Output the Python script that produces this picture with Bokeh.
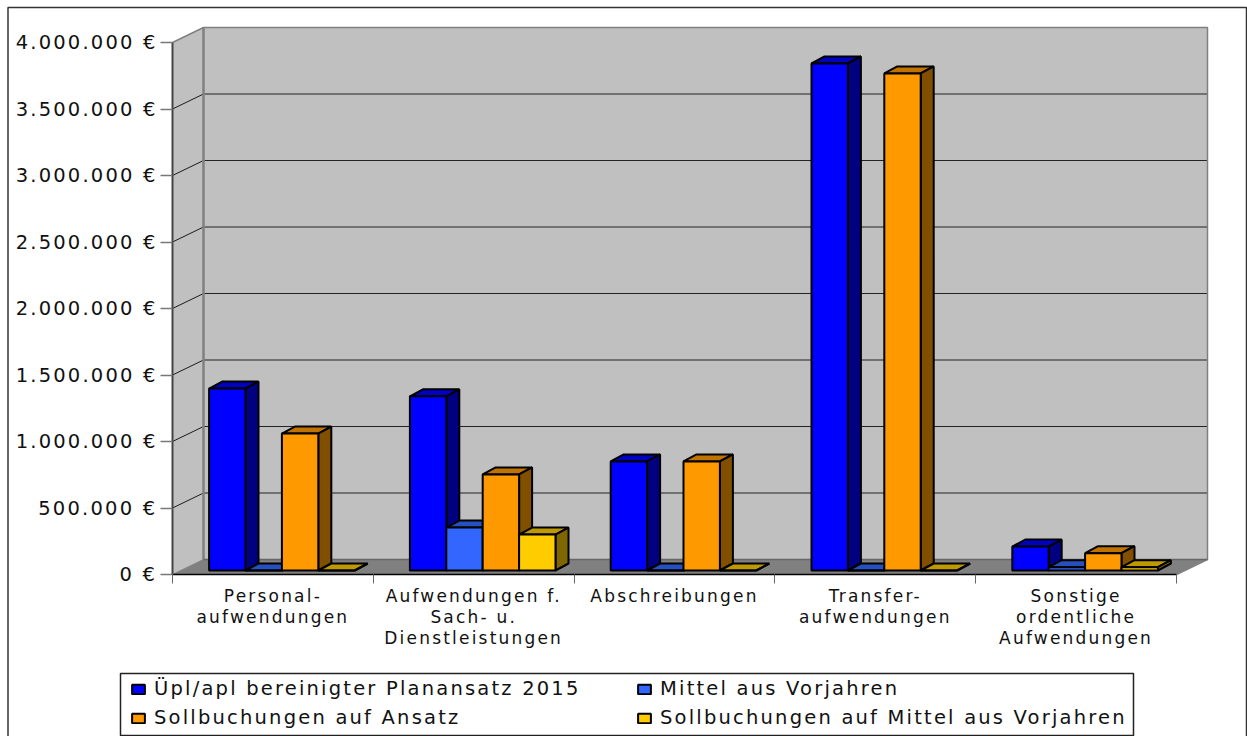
from bokeh.plotting import figure
from bokeh.models import Range1d, FixedTicker, Legend, LegendItem, LinearAxis
from bokeh.embed import file_html
from bokeh.resources import INLINE

categories = ["Personal-\naufwendungen", "Aufwendungen f.\nSach- u.\nDienstleistungen",
              "Abschreibungen", "Transfer-\naufwendungen", "Sonstige\nordentliche\nAufwendungen"]
planansatz = [1368000, 1310000, 820000, 3812000, 180000]
vorjahre = [0, 323000, 0, 0, 25000]
soll_ansatz = [1030000, 722000, 820000, 3737000, 130000]
soll_vorjahre = [0, 270000, 0, 0, 25000]
series_names = ["Üpl/apl bereinigter Planansatz 2015", "Mittel aus Vorjahren",
                "Sollbuchungen auf Ansatz", "Sollbuchungen auf Mittel aus Vorjahren"]
y_ticks = [0, 500000, 1000000, 1500000, 2000000, 2500000, 3000000, 3500000, 4000000]
y_labels = ["0 €", "500.000 €", "1.000.000 €", "1.500.000 €", "2.000.000 €",
            "2.500.000 €", "3.000.000 €", "3.500.000 €", "4.000.000 €"]

front_colors = ["#0000ff", "#3366ff", "#ff9900", "#ffcc00"]
top_colors = ["#0000c0", "#2650bf", "#c07300", "#bf9900"]
side_colors = ["#000080", "#1a3380", "#805000", "#806600"]

WIDTH, HEIGHT = 1247, 736
ORIGIN_X, ORIGIN_Y = 172, 574
PX_GROUP = 200.8
PX_STEP = 66.5
SPACING = 2.2
LINE_STANDOFFS = [2, 26, 47]
px_x = lambda n: n / PX_GROUP
px_y = lambda n: n * 500000 / PX_STEP
page_x = lambda n: px_x(n - ORIGIN_X)
page_y = lambda n: px_y(ORIGIN_Y - n)

WALL_X, WALL_Y = px_x(31), px_y(15)
BAR_DX, BAR_DY = px_x(13), px_y(7)
BAR_START, BAR_W, BAR_BASE = px_x(36.6), px_x(36.4), px_y(4)
FONT = "DejaVu Sans"
n_groups = len(categories)

p = figure(width=WIDTH, height=HEIGHT, output_backend="svg", toolbar_location=None,
           x_axis_type=None, y_axis_type=None,
           x_range=Range1d(page_x(0), page_x(WIDTH)),
           y_range=Range1d(page_y(HEIGHT), page_y(0)),
           min_border=0, styles={"letter-spacing": f"{SPACING}px"})
p.outline_line_color = None
p.grid.visible = False

# chart border
p.line([page_x(7.5), page_x(7.5), page_x(1246), page_x(1246)],
       [page_y(HEIGHT), page_y(7), page_y(7), page_y(HEIGHT)],
       line_color="#333333", line_width=1.5)

# walls and floor
top = y_ticks[-1]
p.patch([0, WALL_X, WALL_X, 0], [0, WALL_Y, top + WALL_Y, top], fill_color="#c0c0c0", line_color=None)
p.patch([WALL_X, n_groups + WALL_X, n_groups + WALL_X, WALL_X], [WALL_Y, WALL_Y, top + WALL_Y, top + WALL_Y],
        fill_color="#c0c0c0", line_color=None)
p.patch([0, WALL_X, n_groups + WALL_X, n_groups], [0, WALL_Y, WALL_Y, 0], fill_color="#808080", line_color=None)

# gridlines on the walls
inner = y_ticks[1:-1]
p.segment(x0=[0] * len(inner), y0=inner, x1=[WALL_X] * len(inner), y1=[v + WALL_Y for v in inner],
          line_color="#1a1a1a", line_width=1)
p.segment(x0=[WALL_X] * len(inner), y0=[v + WALL_Y for v in inner],
          x1=[n_groups + WALL_X] * len(inner), y1=[v + WALL_Y for v in inner],
          line_color="#222222", line_width=1.2)
p.line([0, WALL_X, n_groups + WALL_X, n_groups + WALL_X, n_groups],
       [top, top + WALL_Y, top + WALL_Y, WALL_Y, 0], line_color="#808080", line_width=1.5)
p.line([WALL_X, WALL_X], [WALL_Y, top + WALL_Y], line_color="#808080", line_width=2.5)
p.line([0, WALL_X], [0, WALL_Y], line_color="#808080", line_width=1)
p.line([WALL_X, n_groups + WALL_X], [WALL_Y, WALL_Y], line_color="#666666", line_width=1.5)

# bars
all_series = [planansatz, vorjahre, soll_ansatz, soll_vorjahre]
front_renderers = []
for s, vals in enumerate(all_series):
    fx, fy, tx, ty, sx, sy = [], [], [], [], [], []
    for g, v in enumerate(vals):
        x0 = g + BAR_START + s * BAR_W
        x1 = x0 + BAR_W
        y0 = BAR_BASE
        y1 = BAR_BASE + v
        fx.append([x0, x1, x1, x0]); fy.append([y0, y0, y1, y1])
        tx.append([x0, x1, x1 + BAR_DX, x0 + BAR_DX]); ty.append([y1, y1, y1 + BAR_DY, y1 + BAR_DY])
        sx.append([x1, x1 + BAR_DX, x1 + BAR_DX, x1]); sy.append([y0, y0 + BAR_DY, y1 + BAR_DY, y1])
    p.patches(tx, ty, fill_color=top_colors[s], line_color="black", line_width=2)
    p.patches(sx, sy, fill_color=side_colors[s], line_color="black", line_width=2)
    front_renderers.append(p.patches(fx, fy, fill_color=front_colors[s], line_color="black", line_width=2))

# y axes: one per label length, because letter spacing widens a text past its anchor
lengths = sorted({len(t) for t in y_labels}, reverse=True)
for k, n in enumerate(lengths):
    ticks = [v for v, t in zip(y_ticks, y_labels) if len(t) == n]
    yaxis = LinearAxis(ticker=FixedTicker(ticks=ticks), bounds=(0, top), fixed_location=0)
    yaxis.major_label_overrides = {v: t for v, t in zip(y_ticks, y_labels) if len(t) == n}
    yaxis.major_label_text_font = FONT
    yaxis.major_label_text_font_size = "19.5px"
    yaxis.major_label_text_color = "#111111"
    yaxis.major_label_standoff = round(3 + n * SPACING)
    yaxis.major_tick_out = 12
    yaxis.major_tick_in = 0
    yaxis.major_tick_line_color = "#777777"
    yaxis.major_tick_line_width = 1.5
    yaxis.minor_tick_line_color = None
    yaxis.axis_line_color = "#444444" if k == 0 else None
    yaxis.axis_line_width = 2
    p.add_layout(yaxis, "left")

# x axes: one per label line, so that each line can be centred despite the letter spacing
split = [c.split("\n") for c in categories]
for line in range(max(len(c) for c in split)):
    entries = [(g + 0.5 - px_x(len(c[line]) * SPACING / 2), c[line]) for g, c in enumerate(split) if line < len(c)]
    ticker = FixedTicker(ticks=[e[0] for e in entries],
                         minor_ticks=list(range(n_groups + 1)) if line == 0 else [])
    xaxis = LinearAxis(ticker=ticker, bounds=(0, n_groups), fixed_location=0)
    xaxis.major_label_overrides = dict(entries)
    xaxis.major_label_text_font = FONT
    xaxis.major_label_text_font_size = "17px"
    xaxis.major_label_text_color = "#111111"
    xaxis.major_label_standoff = LINE_STANDOFFS[line]
    xaxis.major_tick_line_color = None
    xaxis.minor_tick_out = 9
    xaxis.minor_tick_in = 0
    xaxis.minor_tick_line_color = "#666666"
    xaxis.axis_line_color = "black" if line == 0 else None
    xaxis.axis_line_width = 1.5
    p.add_layout(xaxis, "below")

# legend box
p.quad(left=page_x(120), right=page_x(1133), top=page_y(673), bottom=page_y(735),
       fill_color="white", line_color="#222222", line_width=1.5)

# legend
def make_legend(indices, loc):
    lg = Legend(items=[LegendItem(label=series_names[i], renderers=[front_renderers[i]]) for i in indices],
                location=loc, orientation="vertical", margin=0, padding=0, spacing=6,
                glyph_width=16, glyph_height=12, label_standoff=8, label_height=20,
                label_text_font=FONT, label_text_font_size="19.5px", label_text_color="#111111",
                background_fill_alpha=0.0, border_line_color=None, click_policy="none")
    p.add_layout(lg, "center")

make_legend([0, 2], (130, 7))
make_legend([1, 3], (636, 7))

open("out.html", "w").write(file_html(p, INLINE))
